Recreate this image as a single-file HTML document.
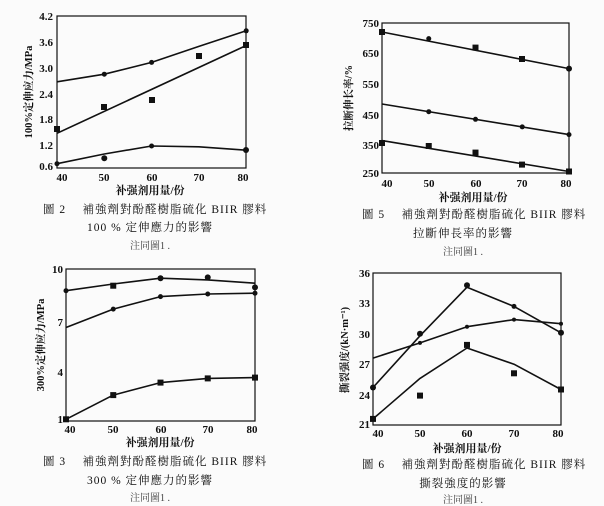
<!DOCTYPE html>
<html><head><meta charset="utf-8"><style>
body{margin:0;background:#fbfbfb;}
svg{display:block}
.t{font-family:"Liberation Serif","Noto Serif CJK SC",serif;font-size:11px;font-weight:bold;fill:#111}
.y{font-family:"Liberation Serif","Noto Serif CJK SC",serif;font-size:10.5px;font-weight:bold;fill:#111}
.c{font-family:"Liberation Serif","Noto Serif CJK SC",serif;font-size:11.5px;fill:#111;letter-spacing:1px}
.n{font-family:"Liberation Serif","Noto Serif CJK SC",serif;font-size:10px;fill:#444}
.l{fill:none;stroke:#111;stroke-width:1.6;stroke-linejoin:round}
.b{fill:none;stroke:#111;stroke-width:1.2}
</style></head><body>
<svg width="604" height="506" viewBox="0 0 604 506">
<!-- Panel 1 -->
<rect class="b" x="57" y="16" width="189" height="152"/>
<g class="t" text-anchor="end">
<text x="53" y="20">4.2</text><text x="53" y="46">3.6</text><text x="53" y="72">3.0</text><text x="53" y="98">2.4</text><text x="53" y="123">1.8</text><text x="53" y="149">1.2</text><text x="53" y="170">0.6</text></g>
<g class="t" text-anchor="middle"><text x="62" y="181">40</text><text x="104" y="181">50</text><text x="152" y="181">60</text><text x="199" y="181">70</text><text x="243" y="181">80</text></g>
<text class="y" x="32" y="92" text-anchor="middle" transform="rotate(-90 32 92)">100%定伸应力/MPa</text>
<text class="t" x="150" y="194" text-anchor="middle">补强剂用量/份</text>
<polyline class="l" points="57,81.8 104.3,74.2 151.6,62.4 198.9,46.4 246.2,30.8"/>
<polyline class="l" points="57,133.3 246.2,45.5"/>
<polyline class="l" points="57,163.7 104.3,154 151.6,146 198.9,146.8 246.2,150.2"/>
<g fill="#111"><rect x="54" y="126" width="6" height="6"/><rect x="101" y="104" width="6" height="6"/><rect x="149" y="97" width="6" height="6"/><rect x="196" y="53" width="6" height="6"/><rect x="243" y="42" width="6" height="6"/>
<circle cx="104.3" cy="158.2" r="3"/><circle cx="246" cy="150" r="3"/><circle cx="151.6" cy="146" r="2.5"/><circle cx="57" cy="163.7" r="2.5"/><circle cx="104.3" cy="74.2" r="2.5"/><circle cx="151.6" cy="62.4" r="2.5"/><circle cx="246.2" cy="30.8" r="2.5"/></g>
<text class="c" x="43" y="213">圖 2　 補強劑對酚醛樹脂硫化 BIIR 膠料</text>
<text class="c" x="150" y="231" text-anchor="middle">100 % 定伸應力的影響</text>
<text class="n" x="150" y="249" text-anchor="middle">注同圖1 .</text>

<!-- Panel 2 -->
<rect class="b" x="382" y="23" width="187" height="150"/>
<g class="t" text-anchor="end"><text x="379" y="27">750</text><text x="379" y="57">650</text><text x="379" y="88">550</text><text x="379" y="119">450</text><text x="379" y="149">350</text><text x="379" y="177">250</text></g>
<g class="t" text-anchor="middle"><text x="387" y="187">40</text><text x="429" y="187">50</text><text x="476" y="187">60</text><text x="522" y="187">70</text><text x="566" y="187">80</text></g>
<text class="y" x="352" y="98" text-anchor="middle" transform="rotate(-90 352 98)">拉断伸长率/%</text>
<text class="t" x="473" y="201" text-anchor="middle">补强剂用量/份</text>
<polyline class="l" points="382,32 569,68.6"/>
<polyline class="l" points="382,104 569,134.6"/>
<polyline class="l" points="382,140.6 569,171.5"/>
<g fill="#111"><rect x="379" y="29" width="6" height="6"/><circle cx="428.75" cy="38.6" r="2.5"/><rect x="472.5" y="44.6" width="6" height="6"/><rect x="519" y="56" width="6" height="6"/><circle cx="569" cy="68.6" r="3"/>
<circle cx="428.75" cy="111.7" r="2.5"/><circle cx="475.5" cy="119.3" r="2.5"/><circle cx="522.25" cy="126.9" r="2.5"/><circle cx="569" cy="134.6" r="2.5"/>
<rect x="379" y="140" width="6" height="6"/><rect x="425.75" y="143" width="6" height="6"/><rect x="472.5" y="149.6" width="6" height="6"/><rect x="519" y="161.6" width="6" height="6"/><rect x="566" y="168.5" width="6" height="6"/></g>
<text class="c" x="362" y="218">圖 5　 補強劑對酚醛樹脂硫化 BIIR 膠料</text>
<text class="c" x="463" y="237" text-anchor="middle">拉斷伸長率的影響</text>
<text class="n" x="463" y="255" text-anchor="middle">注同圖1 .</text>

<!-- Panel 3 -->
<rect class="b" x="66" y="269" width="189" height="152"/>
<g class="t" text-anchor="end"><text x="63" y="273">10</text><text x="63" y="326">7</text><text x="63" y="376">4</text><text x="63" y="423">1</text></g>
<g class="t" text-anchor="middle"><text x="70" y="433">40</text><text x="113" y="433">50</text><text x="161" y="433">60</text><text x="208" y="433">70</text><text x="252" y="433">80</text></g>
<text class="y" x="44" y="345" text-anchor="middle" transform="rotate(-90 44 345)">300%定伸应力/MPa</text>
<text class="t" x="160" y="446" text-anchor="middle">补强剂用量/份</text>
<polyline class="l" points="66,290.7 113.25,284 160.5,278.2 207.75,279.9 255,283.2"/>
<polyline class="l" points="66,327.5 113.25,309.1 160.5,296.6 207.75,294 255,293.2"/>
<polyline class="l" points="66,419.3 113.25,395.1 160.5,382.6 207.75,378.4 255,377.6"/>
<g fill="#111"><circle cx="66" cy="290.7" r="2.5"/><rect x="110.25" y="282.7" width="6" height="6"/><circle cx="160.5" cy="278.2" r="3"/><circle cx="207.75" cy="277.4" r="3"/><circle cx="255" cy="287.4" r="3"/>
<circle cx="113.25" cy="309.1" r="2.5"/><circle cx="160.5" cy="296.6" r="2.5"/><circle cx="207.75" cy="294" r="2.5"/><circle cx="255" cy="293.2" r="2.5"/>
<rect x="63" y="416.3" width="6" height="6"/><rect x="110.25" y="392.1" width="6" height="6"/><rect x="157.5" y="379.6" width="6" height="6"/><rect x="204.75" y="375.4" width="6" height="6"/><rect x="252" y="374.6" width="6" height="6"/></g>
<text class="c" x="43" y="465">圖 3　 補強劑對酚醛樹脂硫化 BIIR 膠料</text>
<text class="c" x="150" y="484" text-anchor="middle">300 % 定伸應力的影響</text>
<text class="n" x="150" y="501" text-anchor="middle">注同圖1 .</text>

<!-- Panel 4 -->
<rect class="b" x="373" y="273" width="188" height="152"/>
<g class="t" text-anchor="end"><text x="370" y="277">36</text><text x="370" y="307">33</text><text x="370" y="338">30</text><text x="370" y="368">27</text><text x="370" y="399">24</text><text x="370" y="428">21</text></g>
<g class="t" text-anchor="middle"><text x="378" y="437">40</text><text x="420" y="437">50</text><text x="467" y="437">60</text><text x="514" y="437">70</text><text x="558" y="437">80</text></g>
<text class="y" x="348" y="350" text-anchor="middle" transform="rotate(-90 348 350)">撕裂强度/(kN·m⁻¹)</text>
<text class="t" x="467" y="452" text-anchor="middle">补强剂用量/份</text>
<polyline class="l" points="373,387.5 420,335.8 467,287.2 514,306.4 561,332.8"/>
<polyline class="l" points="373,358.1 420,342.9 467,326.7 514,319.6 561,323.7"/>
<polyline class="l" points="373,418.9 420,378.4 467,348 514,364.2 561,389.5"/>
<g fill="#111"><circle cx="373" cy="387.5" r="3"/><circle cx="420" cy="333.8" r="3"/><circle cx="467" cy="285.2" r="3"/><circle cx="514" cy="306.4" r="2.5"/><circle cx="561" cy="332.8" r="3"/>
<circle cx="420" cy="342.9" r="2"/><circle cx="467" cy="326.7" r="2"/><circle cx="514" cy="319.6" r="2"/><circle cx="561" cy="323.7" r="2"/>
<rect x="370" y="415.9" width="6" height="6"/><rect x="417" y="392.6" width="6" height="6"/><rect x="464" y="341.9" width="6" height="6"/><rect x="511" y="370.3" width="6" height="6"/><rect x="558" y="386.5" width="6" height="6"/></g>
<text class="c" x="362" y="468">圖 6　 補強劑對酚醛樹脂硫化 BIIR 膠料</text>
<text class="c" x="463" y="487" text-anchor="middle">撕裂強度的影響</text>
<text class="n" x="463" y="503" text-anchor="middle">注同圖1 .</text>
</svg>
</body></html>
